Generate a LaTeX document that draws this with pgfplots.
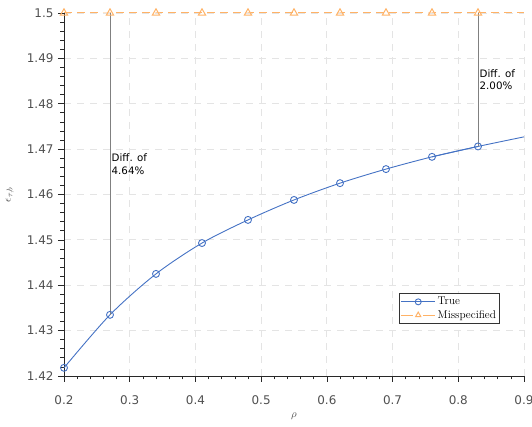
\documentclass[border=0pt]{standalone}
\usepackage{fontspec}
\usepackage{pgfplots}
\pgfplotsset{compat=1.18}
\newfontfamily\dejavu{DejaVu Sans}
\definecolor{tblue}{RGB}{68,114,196}
\definecolor{torange}{RGB}{255,178,102}
\definecolor{tickgray}{RGB}{80,80,80}
\definecolor{axgray}{RGB}{40,40,40}
\definecolor{gridgray}{RGB}{228,228,228}
\begin{document}
\begin{tikzpicture}
\begin{axis}[
  scale only axis, width=460bp, height=363bp,
  xmin=0.2, xmax=0.9, ymin=1.42, ymax=1.5,
  axis x line*=bottom, axis y line*=left,
  axis line style={axgray, line width=0.8pt},
  xtick={0.2,0.3,...,0.9}, ytick={1.42,1.43,...,1.5},
  minor x tick num=4, minor y tick num=4,
  tick align=outside,
  major tick length=6bp, minor tick length=3.5bp,
  tick style={axgray, line width=0.7pt},
  grid=major,
  major grid style={gridgray, dash pattern=on 7bp off 6bp, line width=0.9pt},
  ticklabel style={font=\dejavu\fontsize{12}{14}\selectfont, text=tickgray},
  /pgf/number format/assume math mode=true,
  xticklabel style={yshift=-10bp},
  yticklabel style={xshift=-1bp},
  xlabel={$\rho$}, ylabel={$\epsilon_{\tau,b}$},
  label style={text=tickgray, font=\fontsize{11}{13}\selectfont},
  xlabel style={yshift=-1bp},
  ylabel style={yshift=6bp},
  legend style={at={(0.948,0.1435)}, anchor=south east, draw=black!80, line width=0.6pt, font=\fontsize{11.3}{13}\selectfont, inner sep=1.8bp, row sep=0bp},
  legend image code/.code={\draw[#1, mark repeat=2, mark phase=2, mark size=3bp] plot coordinates {(0bp,0bp)(17bp,0bp)(34bp,0bp)};},
  legend cell align=left,
  clip=false,
]
\addplot[tblue, line width=0.9pt, smooth, mark=o, mark size=3.5bp, mark options={solid, fill=white}]
  coordinates {(0.2,1.4218)(0.27,1.43348)(0.34,1.4425)(0.41,1.4493)(0.48,1.4544)(0.55,1.4588)(0.62,1.4625)(0.69,1.4656)(0.76,1.4683)(0.83,1.47059)};
\addplot[torange, line width=1pt, dash pattern=on 8bp off 5bp, mark=triangle, mark size=4.2bp, mark options={solid, fill=white},
  legend image post style={dash pattern=on 12bp off 10bp}]
  coordinates {(0.2,1.5)(0.27,1.5)(0.34,1.5)(0.41,1.5)(0.48,1.5)(0.55,1.5)(0.62,1.5)(0.69,1.5)(0.76,1.5)(0.83,1.5)};
\legend{True, Misspecified}
\addplot[tblue, line width=0.9pt, smooth, forget plot] coordinates {(0.76,1.4683)(0.83,1.47059)(0.9,1.4727)};
\addplot[torange, line width=1pt, dash pattern=on 8bp off 5bp, forget plot] coordinates {(0.83,1.5)(0.9,1.5)};
\draw[gray, line width=0.8pt] (axis cs:0.27,1.43348) -- (axis cs:0.27,1.5);
\draw[gray, line width=0.8pt] (axis cs:0.83,1.47059) -- (axis cs:0.83,1.5);
\node[anchor=west, align=left, font=\dejavu\fontsize{10.3}{13}\selectfont, inner sep=1.5bp] at (axis cs:0.27,1.46674) {Diff. of\\4.64\%};
\node[anchor=west, align=left, font=\dejavu\fontsize{10.3}{13}\selectfont, inner sep=1.5bp] at (axis cs:0.83,1.48530) {Diff. of\\2.00\%};
\coordinate (sw) at (rel axis cs:0,0);
\coordinate (ne) at (rel axis cs:1,1);
\end{axis}
\pgfresetboundingbox
\path[use as bounding box] ([shift={(-64bp,-51bp)}]sw) rectangle ([shift={(8bp,13bp)}]ne);
\end{tikzpicture}
\end{document}
